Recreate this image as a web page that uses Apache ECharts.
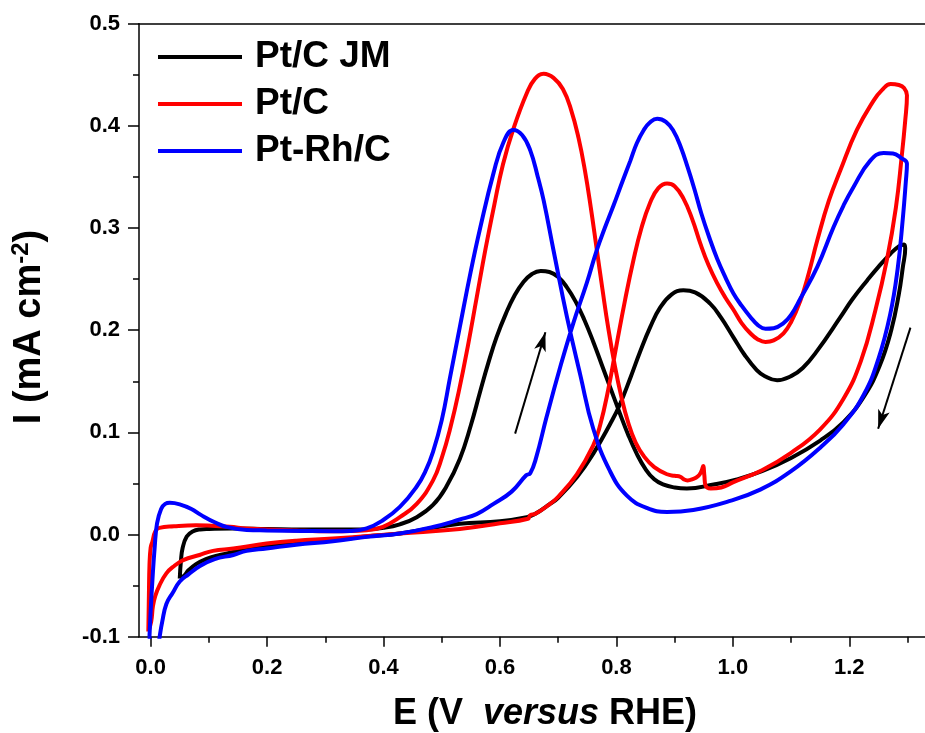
<!DOCTYPE html>
<html>
<head>
<meta charset="utf-8">
<script src="https://cdn.jsdelivr.net/npm/echarts@6.0.0/dist/echarts.min.js"></script>
<style>
html,body{margin:0;padding:0;background:#fff;}
#chart{width:925px;height:733px;}
</style>
</head>
<body>
<div id="chart"></div>
<script>
// ---- data (E in V vs RHE, I in mA cm^-2), each curve as an ordered closed loop ----
const seriesNames = ['Pt/C JM', 'Pt/C', 'Pt-Rh/C'];
const xMajorTicks = [0, 0.2, 0.4, 0.6, 0.8, 1.0, 1.2];
const xMinorTicks = [0.1, 0.3, 0.5, 0.7, 0.9, 1.1, 1.3];

const ptcJM = [
[0.050,-0.043],[0.052,-0.026],[0.055,-0.013],[0.062,-0.002],[0.072,0.003],[0.085,0.005],
[0.100,0.0055],[0.140,0.006],[0.200,0.0055],[0.260,0.005],[0.320,0.005],[0.370,0.005],
[0.400,0.0065],[0.428,0.010],[0.457,0.017],[0.485,0.029],[0.508,0.047],[0.531,0.074],
[0.550,0.107],[0.566,0.140],[0.580,0.168],[0.594,0.193],[0.610,0.216],[0.625,0.234],
[0.640,0.247],[0.655,0.255],[0.670,0.258],[0.685,0.257],[0.700,0.252],[0.715,0.242],
[0.730,0.228],[0.745,0.210],[0.760,0.189],[0.775,0.166],[0.790,0.143],[0.805,0.120],
[0.820,0.098],[0.835,0.079],[0.850,0.064],[0.865,0.054],[0.880,0.049],[0.900,0.046],
[0.921,0.045],[0.967,0.049],[1.007,0.054],
[1.050,0.062],[1.100,0.075],[1.150,0.092],[1.190,0.110],[1.225,0.135],[1.252,0.165],
[1.272,0.200],[1.285,0.235],[1.292,0.262],[1.296,0.280],[1.294,0.284],[1.285,0.282],
[1.271,0.275],[1.250,0.262],[1.231,0.249],[1.205,0.230],[1.185,0.213],[1.145,0.180],
[1.120,0.163],[1.100,0.155],[1.076,0.151],[1.055,0.155],[1.041,0.161],[1.020,0.176],
[1.001,0.193],[0.980,0.212],[0.961,0.226],[0.935,0.237],[0.915,0.239],[0.895,0.235],
[0.875,0.222],[0.858,0.203],[0.840,0.178],[0.825,0.155],[0.805,0.126],[0.789,0.108],
[0.760,0.079],[0.732,0.056],[0.700,0.036],[0.686,0.030],[0.660,0.020],[0.646,0.017],
[0.600,0.013],[0.531,0.0105],[0.480,0.006],[0.428,0.001],[0.370,-0.002],[0.313,-0.0056],
[0.250,-0.009],[0.199,-0.0114],[0.160,-0.015],[0.142,-0.017],[0.119,-0.020],[0.095,-0.024],
[0.078,-0.029],[0.065,-0.035],[0.058,-0.040],[0.050,-0.043]
];

const ptc = [
[-0.004,-0.095],[-0.003,-0.060],[-0.002,-0.030],[0.000,-0.013],[0.003,-0.007],[0.008,0.003],
[0.015,0.0065],[0.040,0.008],[0.078,0.009],[0.136,0.0075],[0.165,0.006],[0.250,0.004],
[0.313,0.0032],[0.371,0.0042],[0.399,0.0075],[0.428,0.017],[0.457,0.030],[0.485,0.053],
[0.500,0.075],[0.515,0.105],[0.530,0.142],[0.545,0.185],[0.560,0.232],[0.575,0.279],
[0.590,0.322],[0.605,0.362],[0.623,0.397],[0.646,0.432],[0.660,0.446],[0.675,0.451],
[0.692,0.447],[0.708,0.436],[0.722,0.416],[0.735,0.388],[0.746,0.356],[0.756,0.320],
[0.766,0.280],[0.776,0.240],[0.786,0.202],[0.797,0.166],[0.808,0.136],[0.820,0.110],
[0.833,0.090],[0.848,0.076],[0.865,0.066],[0.887,0.059],
[0.900,0.0575],[0.910,0.0565],[0.916,0.054],[0.922,0.053],[0.930,0.054],[0.940,0.057],
[0.946,0.062],[0.949,0.067],[0.951,0.058],[0.953,0.048],[0.962,0.045],[0.980,0.046],
[1.000,0.051],[1.050,0.063],[1.100,0.080],[1.150,0.103],[1.190,0.133],[1.220,0.170],
[1.245,0.220],[1.265,0.270],[1.280,0.320],[1.290,0.370],[1.296,0.405],[1.299,0.430],
[1.294,0.437],[1.285,0.440],[1.271,0.441],[1.256,0.435],[1.242,0.425],[1.213,0.396],
[1.185,0.357],[1.165,0.327],[1.145,0.288],[1.130,0.255],[1.116,0.229],[1.100,0.208],
[1.087,0.197],[1.070,0.190],[1.056,0.1885],[1.043,0.191],[1.030,0.197],[1.015,0.207],
[1.001,0.220],[0.987,0.232],[0.973,0.246],[0.958,0.264],[0.944,0.285],[0.930,0.309],
[0.915,0.329],[0.900,0.341],[0.887,0.3435],[0.872,0.339],[0.858,0.325],[0.843,0.300],
[0.829,0.268],[0.815,0.230],[0.800,0.185],[0.786,0.142],[0.772,0.107],[0.760,0.087],
[0.732,0.059],[0.700,0.037],[0.686,0.030],
[0.660,0.020],[0.652,0.019],[0.648,0.0155],[0.600,0.011],[0.531,0.0055],[0.428,0.001],
[0.313,-0.004],[0.250,-0.006],[0.199,-0.0088],[0.142,-0.0137],[0.107,-0.016],[0.084,-0.020],
[0.056,-0.025],[0.040,-0.031],[0.027,-0.038],[0.015,-0.050],[0.008,-0.060],[0.004,-0.070],
[0.001,-0.085],[-0.004,-0.095]
];

const ptRh = [
[-0.002,-0.100],[0.000,-0.075],[0.003,-0.045],[0.007,-0.012],[0.011,0.011],[0.018,0.025],
[0.025,0.030],[0.033,0.031],[0.050,0.0295],[0.070,0.025],[0.087,0.019],[0.110,0.012],
[0.130,0.0075],[0.165,0.0045],[0.199,0.004],[0.260,0.0035],[0.313,0.0032],[0.342,0.0035],
[0.371,0.006],[0.399,0.014],[0.428,0.027],[0.457,0.047],[0.472,0.062],[0.485,0.081],
[0.500,0.112],[0.514,0.153],[0.531,0.203],[0.550,0.258],[0.566,0.300],[0.589,0.354],
[0.606,0.384],[0.623,0.396],[0.638,0.391],[0.652,0.376],[0.665,0.350],[0.675,0.327],
[0.692,0.278],[0.715,0.213],[0.738,0.156],[0.760,0.104],[0.789,0.062],[0.818,0.038],
[0.852,0.026],[0.887,0.022],[0.932,0.024],[0.990,0.032],[1.047,0.044],[1.100,0.062],
[1.150,0.085],[1.190,0.108],[1.225,0.137],[1.250,0.172],[1.270,0.215],[1.283,0.260],
[1.292,0.310],[1.297,0.345],[1.299,0.363],[1.288,0.369],[1.275,0.373],[1.259,0.3735],
[1.236,0.366],[1.207,0.340],[1.190,0.322],[1.173,0.301],[1.145,0.262],[1.116,0.231],
[1.100,0.215],[1.087,0.207],[1.070,0.202],[1.056,0.2015],[1.043,0.205],[1.030,0.213],
[1.015,0.224],[1.001,0.236],[0.987,0.252],[0.973,0.270],[0.960,0.290],[0.946,0.314],
[0.934,0.338],[0.922,0.360],[0.910,0.380],[0.898,0.395],[0.885,0.404],[0.870,0.407],
[0.857,0.403],[0.847,0.396],[0.835,0.383],[0.824,0.366],[0.810,0.345],[0.795,0.322],
[0.780,0.300],[0.766,0.278],[0.749,0.246],[0.726,0.207],[0.703,0.163],[0.680,0.115],
[0.662,0.075],[0.652,0.060],[0.645,0.058],[0.620,0.042],[0.589,0.030],[0.560,0.020],
[0.531,0.0147],[0.485,0.0074],[0.428,0.001],[0.371,-0.0023],[0.313,-0.0066],[0.250,-0.010],
[0.199,-0.0137],[0.165,-0.016],[0.142,-0.020],[0.110,-0.024],[0.084,-0.031],[0.065,-0.039],
[0.050,-0.046],[0.038,-0.057],[0.027,-0.068],[0.020,-0.085],[0.0155,-0.100],[0.008,-0.130],
[-0.002,-0.100]
];

// scan direction arrows [start, end] in data units
const arrowUp = [[0.626, 0.0988], [0.678, 0.198]];
const arrowDown = [[1.305, 0.2025], [1.2495, 0.1036]];

const FONT = '"Liberation Sans", Arial, Helvetica, sans-serif';
const colors = ['#000000', '#ff0000', '#0000ff'];
const curves = [ptcJM, ptc, ptRh];

const chart = echarts.init(document.getElementById('chart'), null, {renderer: 'canvas'});

const gridPos = {left: 139, top: 23.7, right: 0, bottom: 96.3, containLabel: false};
const axisBlack = {color: '#000', width: 1.5};

const series = curves.map((d, i) => ({
  name: seriesNames[i],
  type: 'line',
  xAxisIndex: 0,
  yAxisIndex: 0,
  data: d,
  symbol: 'none',
  showSymbol: false,
  smooth: 0.45,
  clip: true,
  silent: true,
  z: 3 + i,
  lineStyle: {color: colors[i], width: 4},
  itemStyle: {color: colors[i]},
  emphasis: {disabled: true}
}));

series[0].markLine = {
  silent: true,
  animation: false,
  symbol: ['none', 'arrow'],
  label: {show: false},
  emphasis: {disabled: true},
  lineStyle: {color: '#000', width: 2, type: 'solid'},
  data: [
    [{coord: arrowUp[0], symbol: 'none'}, {coord: arrowUp[1], symbol: 'arrow', symbolSize: [9, 19]}],
    [{coord: arrowDown[0], symbol: 'none'}, {coord: arrowDown[1], symbol: 'arrow', symbolSize: [9, 19]}]
  ]
};

const option = {
  animation: false,
  backgroundColor: '#fff',
  grid: [gridPos, Object.assign({}, gridPos)],
  legend: {
    data: seriesNames.map((n, i) => ({name: n, icon: 'rect', itemStyle: {color: colors[i]}})),
    orient: 'vertical',
    left: 158,
    top: 37,
    padding: 0,
    itemGap: 7,
    itemWidth: 84,
    itemHeight: 4,
    selectedMode: false,
    textStyle: {fontSize: 37, fontWeight: 'bold', color: '#000', fontFamily: FONT, lineHeight: 40, padding: [0, 0, 0, 8]}
  },
  xAxis: [
    {
      type: 'value', gridIndex: 0, position: 'bottom', min: -0.02, max: 1.33,
      axisLine: {show: true, onZero: false, lineStyle: axisBlack},
      axisTick: {show: true, inside: false, length: 10, customValues: xMajorTicks, lineStyle: axisBlack},
      axisLabel: {customValues: xMajorTicks, formatter: v => v.toFixed(1), fontSize: 22, fontWeight: 'bold',
                  color: '#000', fontFamily: FONT, margin: 20},
      splitLine: {show: false}
    },
    {
      type: 'value', gridIndex: 0, position: 'top', min: -0.02, max: 1.33,
      axisLine: {show: true, onZero: false, lineStyle: axisBlack},
      axisTick: {show: false}, axisLabel: {show: false}, splitLine: {show: false}
    },
    {
      type: 'value', gridIndex: 1, position: 'bottom', min: -0.02, max: 1.33,
      axisLine: {show: false, onZero: false},
      axisTick: {show: true, inside: false, length: 6, customValues: xMinorTicks, lineStyle: axisBlack},
      axisLabel: {show: false}, splitLine: {show: false}
    }
  ],
  yAxis: [
    {
      type: 'value', gridIndex: 0, min: -0.1, max: 0.5, interval: 0.1,
      axisLine: {show: true, onZero: false, lineStyle: axisBlack},
      axisTick: {show: true, inside: false, length: 11, lineStyle: axisBlack},
      minorTick: {show: true, splitNumber: 2, length: 6, lineStyle: axisBlack},
      axisLabel: {formatter: v => v.toFixed(1), fontSize: 22, fontWeight: 'bold', color: '#000',
                  fontFamily: FONT, margin: 19},
      splitLine: {show: false}, minorSplitLine: {show: false}
    },
    {
      type: 'value', gridIndex: 1, min: -0.1, max: 0.5,
      show: false
    }
  ],
  graphic: [
    {
      type: 'text', x: 545, y: 714, silent: true,
      style: {
        text: '{n|E (V  }{i|versus}{n| RHE)}',
        align: 'center', verticalAlign: 'middle',
        rich: {
          n: {fontSize: 36, fontWeight: 'bold', fontFamily: FONT, fill: '#000'},
          i: {fontSize: 36, fontWeight: 'bold', fontStyle: 'italic', fontFamily: FONT, fill: '#000'}
        }
      }
    },
    {
      type: 'text', x: 30, y: 327, rotation: Math.PI / 2, silent: true,
      style: {
        text: '{a|I (mA cm}{s|-2}{a|)}',
        align: 'center', verticalAlign: 'middle',
        rich: {
          a: {fontSize: 38, fontWeight: 'bold', fontFamily: FONT, fill: '#000', lineHeight: 42},
          s: {fontSize: 24, fontWeight: 'bold', fontFamily: FONT, fill: '#000', lineHeight: 14, verticalAlign: 'top'}
        }
      }
    }
  ],
  series: series
};

chart.setOption(option);
</script>
</body>
</html>
